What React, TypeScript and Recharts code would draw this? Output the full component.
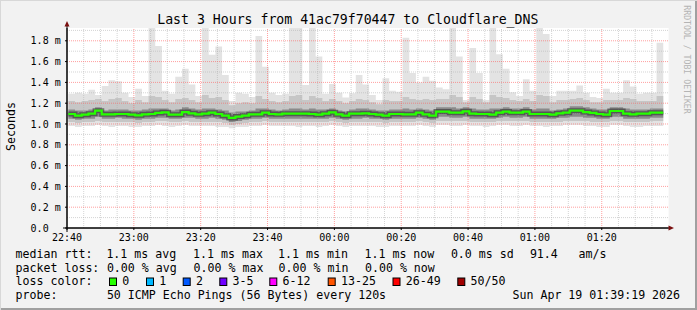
import React from 'react';
import { ComposedChart, Area, Line, XAxis, YAxis, CartesianGrid, ReferenceLine } from 'recharts';

// ---- data (values in ms, one entry per 2-minute step, starting just after 22:40) ----
const START_MIN = 0.4;
const STEP_MIN = 2;

const MEDIAN = [
  1.096, 1.080, 1.090, 1.099, 1.128, 1.093, 1.093, 1.096, 1.096, 1.090,
  1.083, 1.093, 1.096, 1.106, 1.112, 1.090, 1.090, 1.115, 1.103, 1.093,
  1.099, 1.109, 1.096, 1.080, 1.058, 1.071, 1.080, 1.093, 1.093, 1.109,
  1.096, 1.093, 1.099, 1.099, 1.099, 1.099, 1.096, 1.090, 1.099, 1.112,
  1.093, 1.080, 1.099, 1.099, 1.103, 1.096, 1.090, 1.080, 1.096, 1.096,
  1.093, 1.093, 1.109, 1.093, 1.080, 1.119, 1.119, 1.109, 1.109, 1.122,
  1.099, 1.096, 1.096, 1.090, 1.109, 1.119, 1.109, 1.109, 1.119, 1.096,
  1.096, 1.096, 1.090, 1.103, 1.109, 1.128, 1.128, 1.115, 1.106, 1.096,
  1.090, 1.125, 1.125, 1.099, 1.093, 1.099, 1.099, 1.109, 1.109,
];

const MAX = [
  1.29, 1.30, 1.29, 1.33, 1.28, 1.365, 1.42, 1.41, 1.30, 1.26,
  1.34, 1.27, 1.93, 1.75, 1.32, 1.29, 1.455, 1.53, 1.38, 1.27,
  1.93, 1.665, 1.745, 1.47, 1.22, 1.30, 1.29, 1.26, 1.845, 1.55,
  1.30, 1.28, 1.29, 1.93, 1.93, 1.375, 1.93, 1.65, 1.29, 1.385,
  1.30, 1.255, 1.295, 1.47, 1.38, 1.28, 1.23, 1.44, 1.32, 1.31,
  1.83, 1.49, 1.40, 1.455, 1.415, 1.35, 1.335, 1.93, 1.65, 1.23,
  1.73, 1.49, 1.23, 1.93, 1.67, 1.53, 1.305, 1.27, 1.43, 1.32,
  1.93, 1.865, 1.27, 1.32, 1.32, 1.32, 1.37, 1.30, 1.26, 1.25,
  1.34, 1.30, 1.30, 1.42, 1.36, 1.29, 1.30, 1.30, 1.78,
];

const P90 = [
  1.22, 1.21, 1.22, 1.23, 1.24, 1.22, 1.24, 1.25, 1.22, 1.20,
  1.23, 1.21, 1.27, 1.26, 1.23, 1.21, 1.24, 1.25, 1.23, 1.21,
  1.28, 1.25, 1.26, 1.23, 1.18, 1.20, 1.21, 1.20, 1.27, 1.24,
  1.22, 1.21, 1.22, 1.27, 1.28, 1.23, 1.27, 1.25, 1.22, 1.24,
  1.22, 1.20, 1.22, 1.24, 1.23, 1.21, 1.19, 1.23, 1.22, 1.22,
  1.26, 1.24, 1.23, 1.24, 1.23, 1.24, 1.24, 1.28, 1.26, 1.21,
  1.26, 1.24, 1.21, 1.28, 1.26, 1.25, 1.23, 1.22, 1.24, 1.22,
  1.28, 1.27, 1.21, 1.23, 1.23, 1.24, 1.25, 1.23, 1.21, 1.21,
  1.23, 1.23, 1.23, 1.25, 1.24, 1.22, 1.22, 1.22, 1.27,
];

const P75 = [
  1.14, 1.13, 1.13, 1.14, 1.16, 1.13, 1.14, 1.14, 1.14, 1.13,
  1.13, 1.14, 1.15, 1.15, 1.15, 1.13, 1.14, 1.16, 1.15, 1.14,
  1.15, 1.15, 1.14, 1.13, 1.11, 1.12, 1.12, 1.13, 1.15, 1.15,
  1.14, 1.13, 1.14, 1.15, 1.15, 1.14, 1.15, 1.14, 1.14, 1.15,
  1.13, 1.12, 1.14, 1.15, 1.15, 1.14, 1.13, 1.13, 1.14, 1.14,
  1.15, 1.14, 1.15, 1.14, 1.13, 1.16, 1.16, 1.16, 1.15, 1.16,
  1.15, 1.14, 1.14, 1.15, 1.15, 1.16, 1.15, 1.15, 1.16, 1.14,
  1.15, 1.15, 1.13, 1.14, 1.15, 1.17, 1.17, 1.16, 1.15, 1.14,
  1.14, 1.16, 1.16, 1.15, 1.14, 1.14, 1.14, 1.15, 1.15,
];

const P25 = [
  1.05, 1.04, 1.05, 1.05, 1.07, 1.05, 1.05, 1.06, 1.05, 1.05,
  1.04, 1.05, 1.05, 1.06, 1.06, 1.05, 1.05, 1.06, 1.06, 1.05,
  1.05, 1.06, 1.05, 1.04, 1.02, 1.03, 1.04, 1.05, 1.05, 1.06,
  1.05, 1.05, 1.05, 1.05, 1.05, 1.05, 1.05, 1.05, 1.05, 1.06,
  1.05, 1.04, 1.05, 1.05, 1.06, 1.05, 1.05, 1.04, 1.05, 1.05,
  1.05, 1.05, 1.06, 1.05, 1.04, 1.07, 1.07, 1.06, 1.06, 1.07,
  1.05, 1.05, 1.05, 1.05, 1.06, 1.07, 1.06, 1.06, 1.07, 1.05,
  1.05, 1.05, 1.05, 1.06, 1.06, 1.07, 1.07, 1.06, 1.06, 1.05,
  1.05, 1.07, 1.07, 1.05, 1.05, 1.05, 1.05, 1.06, 1.06,
];

const P10 = [
  1.02, 1.01, 1.02, 1.02, 1.03, 1.02, 1.02, 1.02, 1.02, 1.02,
  1.01, 1.02, 1.02, 1.03, 1.03, 1.02, 1.02, 1.03, 1.02, 1.02,
  1.02, 1.02, 1.02, 1.01, 0.99, 1.00, 1.01, 1.02, 1.02, 1.03,
  1.02, 1.02, 1.02, 1.02, 1.02, 1.02, 1.02, 1.02, 1.02, 1.03,
  1.02, 1.01, 1.02, 1.02, 1.02, 1.02, 1.02, 1.01, 1.02, 1.02,
  1.02, 1.02, 1.03, 1.02, 1.01, 1.03, 1.03, 1.03, 1.03, 1.03,
  1.02, 1.02, 1.02, 1.02, 1.03, 1.03, 1.03, 1.03, 1.03, 1.02,
  1.02, 1.02, 1.02, 1.02, 1.03, 1.03, 1.03, 1.03, 1.02, 1.02,
  1.02, 1.03, 1.03, 1.02, 1.02, 1.02, 1.02, 1.03, 1.03,
];

const MIN = [
  0.98, 0.97, 0.98, 0.98, 0.99, 0.98, 0.97, 0.98, 0.98, 0.97,
  0.97, 0.98, 0.98, 0.99, 0.98, 0.97, 0.98, 0.99, 0.98, 0.98,
  0.98, 0.98, 0.97, 0.97, 0.96, 0.97, 0.97, 0.98, 0.98, 0.99,
  0.98, 0.98, 0.98, 0.98, 0.97, 0.98, 0.98, 0.97, 0.98, 0.99,
  0.98, 0.97, 0.98, 0.98, 0.98, 0.98, 0.97, 0.97, 0.98, 0.98,
  0.98, 0.98, 0.99, 0.98, 0.97, 0.99, 0.99, 0.98, 0.98, 0.99,
  0.98, 0.98, 0.97, 0.98, 0.99, 0.99, 0.98, 0.98, 0.99, 0.98,
  0.98, 0.97, 0.98, 0.98, 0.99, 0.99, 0.99, 0.98, 0.98, 0.97,
  0.97, 0.99, 0.99, 0.98, 0.97, 0.97, 0.98, 0.98, 0.98,
];

// axes / grid
const X_TICKS = [0, 20, 40, 60, 80, 100, 120, 140, 160];
const X_LABELS = ['22:40', '23:00', '23:20', '23:40', '00:00', '00:20', '00:40', '01:00', '01:20'];
const X_MAJOR = [20, 40, 60, 80, 100, 120, 140, 160];
const X_MINOR = [5, 10, 15, 25, 30, 35, 45, 50, 55, 65, 70, 75, 85, 90, 95, 105, 110, 115, 125, 130, 135, 145, 150, 155, 165, 170, 175];
const Y_TICKS = [0, 0.2, 0.4, 0.6, 0.8, 1.0, 1.2, 1.4, 1.6, 1.8];
const Y_LABELS = ['0.0', '0.2 m', '0.4 m', '0.6 m', '0.8 m', '1.0 m', '1.2 m', '1.4 m', '1.6 m', '1.8 m'];
const Y_MAJOR = [0.2, 0.4, 0.6, 0.8, 1.0, 1.2, 1.4, 1.6, 1.8];
const Y_MINOR = [0.1, 0.3, 0.5, 0.7, 0.9, 1.1, 1.3, 1.5, 1.7, 1.9];

// legend texts
const TITLE = 'Last 3 Hours from 41ac79f70447 to Cloudflare_DNS';
const RTT_LABEL = 'median rtt:';
const RTT_ITEMS = ['1.1 ms avg', '1.1 ms max', '1.1 ms min', '1.1 ms now', '0.0 ms sd', '91.4', 'am/s'];
const LOSS_LABEL = 'packet loss:';
const LOSS_ITEMS = ['0.00 % avg', '0.00 % max', '0.00 % min', '0.00 % now'];
const COLOR_LABEL = 'loss color:';
const LOSS_CLASSES = ['0', '1', '2', '3-5', '6-12', '13-25', '26-49', '50/50'];
const LOSS_COLORS = ['#26ff00', '#00b8ff', '#0059ff', '#7000ff', '#ff00ff', '#ff5500', '#ff0000', '#a00000'];
const PROBE_LABEL = 'probe:';
const PROBE_TEXT = '50 ICMP Echo Pings (56 Bytes) every 120s';
const DATE_TEXT = 'Sun Apr 19 01:39:19 2026';

const rows: any[] = MEDIAN.map((m, i) => ({
  t: START_MIN + STEP_MIN * i,
  median: m,
  r0: [MIN[i], MAX[i]],
  r1: [P10[i], P90[i]],
  r2: [P25[i], P75[i]],
}));
{
  const last = rows[rows.length - 1];
  rows.push({ ...last, t: last.t + STEP_MIN });
}

const MONO = "'DejaVu Sans Mono', monospace";

const YTick = (props: any) => {
  const { x, y, payload } = props;
  const idx = Y_TICKS.findIndex((v) => Math.abs(v - payload.value) < 1e-6);
  return (
    <text x={x - 29.4} y={y} dy="0.355em" textAnchor="start" fontFamily={MONO} fontSize={10} fill="#000">
      {idx >= 0 ? Y_LABELS[idx] : ''}
    </text>
  );
};

const RTT_X = [106.4, 193.1, 278.1, 364.5, 450.9, 529.9, 578.5];
const BOX_X = [109, 146, 182.7, 219.3, 269.3, 327.7, 392.5, 457.3];

export default function App() {
  const LEG = 11.6;
  return (
    <div
      style={{
        position: 'absolute',
        left: 0,
        top: 0,
        width: 697,
        height: 310,
        background: '#f2f2f2',
        boxShadow: 'inset 1px 1px 0 #d8d8d8, inset -2px -2px 0 #a0a0a0',
        overflow: 'hidden',
      }}
    >
      <ComposedChart
        width={697}
        height={310}
        data={rows}
        margin={{ top: 28, right: 28.4, bottom: 62, left: 7 }}
        style={{ position: 'absolute', left: 0, top: 0 }}
      >
        <CartesianGrid horizontal={false} vertical={false} fill="#ffffff" />
        <XAxis
          dataKey="t"
          type="number"
          domain={[0, 180]}
          ticks={X_TICKS}
          interval={0}
          tickFormatter={(v: number) => X_LABELS[X_TICKS.indexOf(v)] ?? ''}
          allowDataOverflow
          height={20}
          tickSize={2}
          tickMargin={4}
          axisLine={{ stroke: '#000' }}
          tickLine={{ stroke: '#000' }}
          tick={{ fontFamily: MONO, fontSize: 10, fill: '#000' }}
        />
        <YAxis
          type="number"
          domain={[0, 1.923]}
          ticks={Y_TICKS}
          interval={0}
          allowDataOverflow
          width={60}
          tickSize={2}
          tickMargin={5}
          axisLine={{ stroke: '#000' }}
          tickLine={{ stroke: '#000' }}
          tick={<YTick />}
        />
        <Area dataKey="r0" type="stepAfter" fill="#e3e3e3" fillOpacity={1} stroke="none" isAnimationActive={false} dot={false} activeDot={false} />
        <Area dataKey="r1" type="stepAfter" fill="#c6c6c6" fillOpacity={1} stroke="none" isAnimationActive={false} dot={false} activeDot={false} />
        <Area dataKey="r2" type="stepAfter" fill="#8a8a8a" fillOpacity={1} stroke="none" isAnimationActive={false} dot={false} activeDot={false} />
        {Y_MINOR.map((v) => (
          <ReferenceLine key={'ym' + v} y={v} stroke="#b0b0b0" strokeOpacity={0.55} strokeDasharray="1 1" />
        ))}
        {X_MINOR.map((v) => (
          <ReferenceLine key={'xm' + v} x={v} stroke="#b0b0b0" strokeOpacity={0.55} strokeDasharray="1 1" />
        ))}
        {Y_MAJOR.map((v) => (
          <ReferenceLine key={'yM' + v} y={v} stroke="#ff5f5f" strokeOpacity={0.6} strokeDasharray="1 1" />
        ))}
        {X_MAJOR.map((v) => (
          <ReferenceLine key={'xM' + v} x={v} stroke="#ff5f5f" strokeOpacity={0.6} strokeDasharray="1 1" />
        ))}
        <Line dataKey="median" type="stepAfter" stroke="#333333" strokeOpacity={0.6} strokeWidth={5} dot={false} activeDot={false} isAnimationActive={false} />
        <Line dataKey="median" type="stepAfter" stroke="#26ff00" strokeWidth={2.2} dot={false} activeDot={false} isAnimationActive={false} />
      </ComposedChart>
      <svg width={697} height={310} style={{ position: 'absolute', left: 0, top: 0, pointerEvents: 'none' }}>
        {/* axis extensions and arrows */}
        <line x1={63} y1={228} x2={670} y2={228} stroke="#000" strokeWidth={1} />
        <line x1={67} y1={232} x2={67} y2={25} stroke="#000" strokeWidth={1} />
        <polygon points="64.5,26.5 69.5,26.5 67,21" fill="#7a1010" />
        <polygon points="668.5,225.5 668.5,230.5 674,228" fill="#7a1010" />
        <text x={347.8} y={23.8} textAnchor="middle" fontFamily={MONO} fontSize={13.2} fill="#000">{TITLE}</text>
        <text transform="translate(15.2,126.5) rotate(-90)" textAnchor="middle" fontFamily={MONO} fontSize={LEG} fill="#000">Seconds</text>
        <text transform="translate(683.5,59.5) rotate(90)" textAnchor="middle" fontFamily={MONO} fontSize={8.2} fill="#b4b4b4">RRDTOOL / TOBI OETIKER</text>
        <g fontFamily={MONO} fontSize={LEG} fill="#000" style={{ whiteSpace: 'pre' }}>
          <text x={15.6} y={258.2}>{RTT_LABEL}</text>
          {RTT_ITEMS.map((s, i) => (
            <text key={'r' + i} x={RTT_X[i]} y={258.2}>{s}</text>
          ))}
          <text x={15.6} y={271.8}>{LOSS_LABEL}</text>
          {LOSS_ITEMS.map((s, i) => (
            <text key={'l' + i} x={RTT_X[i] + 0.5} y={271.8}>{s}</text>
          ))}
          <text x={15.6} y={285.4}>{COLOR_LABEL}</text>
          {LOSS_CLASSES.map((s, i) => (
            <g key={'c' + i}>
              <rect x={BOX_X[i] + 0.5} y={278} width={7} height={7.5} fill={LOSS_COLORS[i]} stroke="#000" strokeWidth={1} />
              <text x={BOX_X[i] + 13.3} y={285.4}>{s}</text>
            </g>
          ))}
          <text x={15.6} y={299}>{PROBE_LABEL}</text>
          <text x={106.9} y={299}>{PROBE_TEXT}</text>
          <text x={512.5} y={299}>{DATE_TEXT}</text>
        </g>
      </svg>
    </div>
  );
}
